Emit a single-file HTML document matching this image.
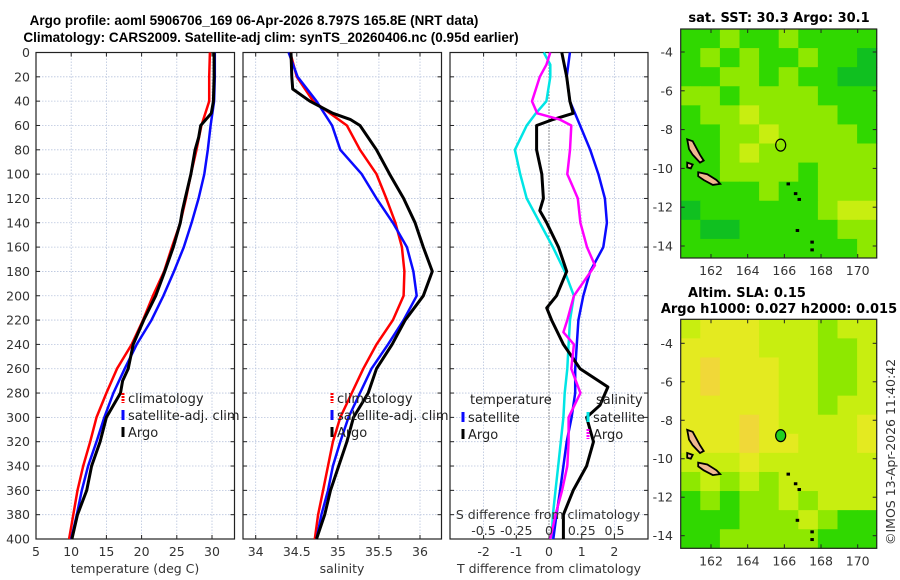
<!DOCTYPE html>
<html><head><meta charset="utf-8">
<style>
html,body{margin:0;padding:0;background:#fff;}
svg{display:block;font-family:"DejaVu Sans","Liberation Sans",sans-serif;}
.tk{font-size:12.5px;fill:#333;}
.ttl{font-size:13px;font-weight:bold;fill:#000;}
.ttl2{font-family:"Liberation Sans",sans-serif;font-size:13.5px;font-weight:bold;fill:#000;}
.lg{font-size:13px;fill:#222;}
</style></head>
<body>
<svg id="fig" width="900" height="580" viewBox="0 0 900 580">
<text class="ttl2" x="254" y="25" text-anchor="middle">Argo profile: aoml 5906706_169 06-Apr-2026 8.797S 165.8E (NRT data)</text>
<text class="ttl2" x="271" y="42" text-anchor="middle">Climatology: CARS2009. Satellite-adj clim: synTS_20260406.nc (0.95d earlier)</text>
<text class="ttl" x="779" y="22" text-anchor="middle">sat. SST: 30.3 Argo: 30.1</text>
<text class="ttl" x="747" y="297" text-anchor="middle">Altim. SLA: 0.15</text>
<text class="ttl" x="779" y="313" text-anchor="middle">Argo h1000: 0.027 h2000: 0.015</text>
<text class="tk" x="0" y="0" transform="translate(895,545) rotate(-90)">©IMOS 13-Apr-2026 11:40:42</text>
</svg>
<script>
// ---------- data ----------
const depths = [0,20,40,60,80,100,120,140,160,180,200,220,240,260,280,300,320,340,360,380,400];
const tempClim = [29.7,29.6,29.6,28.5,27.8,27.0,26.3,25.5,24.3,23.2,21.6,20.2,18.6,16.5,15.0,13.6,12.7,11.7,10.9,10.3,9.7];
const tempSat  = [30.4,30.4,30.3,29.8,29.4,28.9,28.1,27.1,26.0,24.6,23.1,21.4,19.3,17.6,16.0,14.7,13.6,12.4,11.5,10.8,10.0];
const argoDepths = [0,20,40,50,60,70,80,100,120,130,140,160,180,200,220,240,260,270,280,290,300,320,340,360,380,400];
const tempArgo = [30.3,30.3,30.2,29.9,28.4,28.1,27.6,27.0,26.2,25.8,25.5,24.5,23.3,22.0,20.3,18.8,18.1,17.3,17.0,16.0,15.0,14.1,12.9,12.2,10.9,10.1];
const salClim = [34.42,34.50,34.70,35.11,35.27,35.47,35.59,35.70,35.78,35.81,35.80,35.67,35.47,35.31,35.17,35.03,34.94,34.88,34.82,34.76,34.72];
const salSat  = [34.40,34.51,34.74,34.93,35.03,35.29,35.47,35.67,35.84,35.92,35.96,35.80,35.61,35.41,35.27,35.13,35.03,34.94,34.88,34.80,34.74];
const salArgoDepths = [0,20,30,40,50,55,60,80,100,120,140,160,180,200,220,240,260,280,300,320,340,360,380,400];
const salArgo = [34.43,34.44,34.45,34.66,34.94,35.15,35.27,35.47,35.63,35.80,35.94,36.04,36.15,36.04,35.82,35.66,35.47,35.37,35.19,35.11,35.01,34.91,34.84,34.74];
const dTSat = [0.64,0.54,0.64,0.95,1.26,1.51,1.71,1.77,1.66,1.26,1.05,0.90,0.85,0.80,0.80,0.69,0.54,0.44,0.34,0.23,0.13];
const dArgoDepths = [0,20,40,50,55,60,80,100,120,130,140,160,180,200,210,220,240,260,275,290,300,320,340,360,380,400];
const dTArgo = [0.39,0.54,0.64,0.74,0.13,-0.38,-0.38,-0.22,-0.17,-0.28,-0.07,0.29,0.54,0.23,-0.07,0.08,0.44,0.95,1.80,1.56,1.15,1.36,1.15,0.74,0.44,0.44];
const dSDepths = [0,10,20,40,50,60,80,100,120,140,160,180,200,220,240,260,280,300,320,340,360,380,400];
const dSSat = [-0.04,0.01,0.01,-0.02,-0.10,-0.17,-0.26,-0.22,-0.17,-0.07,0.03,0.12,0.19,0.16,0.15,0.14,0.12,0.11,0.09,0.07,0.05,0.03,0.02];
const dSArgoDepths = [0,10,20,30,40,50,55,60,80,100,110,120,140,160,175,180,200,220,230,240,260,280,300,320,340,360,380,400];
const dSArgo = [0.01,-0.02,-0.07,-0.10,-0.13,-0.09,0.08,0.17,0.16,0.14,0.18,0.22,0.24,0.29,0.35,0.32,0.19,0.14,0.11,0.19,0.17,0.24,0.15,0.15,0.14,0.10,0.05,0.01];
const depthTicks = [0,20,40,60,80,100,120,140,160,180,200,220,240,260,280,300,320,340,360,380,400];
const tempTicks = [5,10,15,20,25,30];
const salTicks = [34,34.5,35,35.5,36];
const dTTicks = [-2,-1,0,1,2];
const dSTicks = [-0.5,-0.25,0,0.25,0.5];
const dSTickLabels = ["-0.5","-0.25","0","0.25","0.5"];
const latTicks = [-4,-6,-8,-10,-12,-14];
const lonTicks = [162,164,166,168,170];
const sstGrid = [
[1,1,2,1,1,2,1,1,1,1],[1,2,1,2,1,1,2,1,1,0],[1,1,2,2,1,2,1,1,0,0],[2,2,1,2,2,2,2,1,1,1],
[1,2,2,3,2,2,2,2,1,1],[1,1,2,2,3,2,2,2,2,1],[1,1,2,3,2,2,2,2,2,2],[1,1,2,2,2,2,1,2,2,2],
[1,1,1,1,2,1,1,2,2,2],[0,1,1,1,1,1,1,2,3,3],[1,0,0,1,1,1,1,1,2,2],[1,1,1,1,1,1,1,1,1,2]];
const slaGrid = [
[3,4,4,4,3,3,3,2,3,3],[4,4,4,4,3,3,3,2,2,3],[4,5,4,4,4,3,3,2,2,3],[4,5,4,4,4,3,3,2,2,3],
[4,4,4,4,4,3,3,2,3,3],[4,4,4,5,4,3,3,3,3,4],[4,4,4,5,4,4,3,3,3,4],[3,3,3,4,3,3,3,3,3,3],
[2,3,2,3,2,3,3,3,3,3],[1,2,1,2,2,3,2,3,3,3],[1,1,1,2,2,2,3,2,1,1],[1,1,2,2,2,2,2,1,1,1]];
const argoLon = 165.8, argoLat = -8.8;

// ---------- helpers ----------
const NS="http://www.w3.org/2000/svg";
const svg=document.getElementById('fig');
function mk(tag,attrs,parent){const e=document.createElementNS(NS,tag);for(const k in attrs)e.setAttribute(k,attrs[k]);(parent||svg).appendChild(e);return e;}
const Y0=52.5, Y1=539;
const yD = d => Y0 + (d/400)*(Y1-Y0);
function lin(d0,d1,p0,p1){return v=>p0+(v-d0)/(d1-d0)*(p1-p0);}
const xT = lin(5,30,36,212);
const xS = lin(34,36,255.7,420);
const xDT = lin(0,1,549,581.7);
const xDS = lin(0,0.5,549,614.5);
const panels=[{x0:36,x1:234.5},{x0:243,x1:441.5},{x0:450,x1:648}];

function frame(p,vgrid,sc,name){
  const g=mk('g',{});
  
  
  vgrid.forEach(v=>{const l=mk('line',{x1:sc(v),x2:sc(v),y1:Y0,y2:Y1,stroke:'#b8c4dd','stroke-width':0.8,'stroke-dasharray':'1.5,1.5'},g);
    
    mk('line',{x1:sc(v),x2:sc(v),y1:Y1,y2:Y1-4,stroke:'#222'},g);mk('line',{x1:sc(v),x2:sc(v),y1:Y0,y2:Y0+4,stroke:'#222'},g);});
  depthTicks.forEach(d=>{const l=mk('line',{x1:p.x0,x2:p.x1,y1:yD(d),y2:yD(d),stroke:'#b8c4dd','stroke-width':0.8,'stroke-dasharray':'1.5,1.5'},g);
    
    mk('line',{x1:p.x0,x2:p.x0+4,y1:yD(d),y2:yD(d),stroke:'#222'},g);mk('line',{x1:p.x1,x2:p.x1-4,y1:yD(d),y2:yD(d),stroke:'#222'},g);});
  mk('rect',{x:p.x0,y:Y0,width:p.x1-p.x0,height:Y1-Y0,fill:'none',stroke:'#222','stroke-width':1.2},g);
}
function line(xs,ys,xf,col,w,name){
  const pts=xs.map((v,i)=>xf(v).toFixed(1)+','+yD(ys[i]).toFixed(1)).join(' ');
  const e=mk('polyline',{points:pts,fill:'none',stroke:col,'stroke-width':w,'stroke-linejoin':'round'});
  
  
  return e;
}
function txt(x,y,s,anchor,cls,name){const t=mk('text',{x:x,y:y,'text-anchor':anchor||'start',class:cls||'tk'});t.textContent=s;
  
  
  return t;}
function legend(x,y,items,name){
  const g=mk('g',{});
  
  
  items.forEach((it,i)=>{const yy=y+i*17;mk('line',{x1:x,x2:x,y1:yy-9,y2:yy+1,stroke:it[1],'stroke-width':3,'stroke-dasharray':it[2]||''},g);
    const t=mk('text',{x:x+5,y:yy+1,class:'lg'},g);t.textContent=it[0];});
}

// ---------- panel 1 ----------
frame(panels[0],tempTicks,xT,'temperature-axes');
depthTicks.forEach(d=>txt(30,yD(d)+4.5,String(d),'end','tk','depth-tick-label'));
tempTicks.forEach(v=>txt(xT(v),556,String(v),'middle','tk','temperature-tick-label'));
txt(135,573,'temperature (deg C)','middle','tk','temperature-axis-title');
line(tempClim,depths,xT,'#ff0000',2.5,'temp-climatology-line');
line(tempSat,depths,xT,'#0a0aff',2.5,'temp-satellite-line');
line(tempArgo,argoDepths,xT,'#000',3,'temp-argo-line');
legend(123,402,[['climatology','#ff0000','2,1'],['satellite-adj. clim','#0a0aff'],['Argo','#000']],'temperature-legend');

// ---------- panel 2 ----------
frame(panels[1],salTicks,xS,'salinity-axes');
salTicks.forEach(v=>txt(xS(v),556,String(v),'middle','tk','salinity-tick-label'));
txt(342,573,'salinity','middle','tk','salinity-axis-title');
line(salClim,depths,xS,'#ff0000',2.5,'sal-climatology-line');
line(salSat,depths,xS,'#0a0aff',2.5,'sal-satellite-line');
line(salArgo,salArgoDepths,xS,'#000',3,'sal-argo-line');
legend(332,402,[['climatology','#ff0000','2,1'],['satellite-adj. clim','#0a0aff'],['Argo','#000']],'salinity-legend');

// ---------- panel 3 ----------
frame(panels[2],dTTicks,xDT,'difference-axes');
mk('line',{x1:xDT(0),x2:xDT(0),y1:Y0,y2:Y1,stroke:'#333','stroke-width':1,'stroke-dasharray':'1,2'});
dTTicks.forEach(v=>txt(xDT(v),556,String(v),'middle','tk','t-diff-tick-label'));
txt(549,573,'T difference from climatology','middle','tk','t-diff-axis-title');
line(dSSat,dSDepths,xDS,'#00e5e5',2.5,'s-diff-satellite-line');
line(dTSat,depths,xDT,'#0a0aff',2.5,'t-diff-satellite-line');
line(dTArgo,dArgoDepths,xDT,'#000',3,'t-diff-argo-line');
line(dSArgo,dSArgoDepths,xDS,'#ff00ff',2.5,'s-diff-argo-line');
txt(548,519,'S difference from climatology','middle','tk','s-diff-axis-title');
dSTicks.forEach((v,i)=>txt(xDS(v),535,dSTickLabels[i],'middle','tk','s-diff-tick-label'));
txt(470,404,'temperature','start','lg','t-legend-header');
txt(596,404,'salinity','start','lg','s-legend-header');
legend(463,421,[['satellite','#0a0aff'],['Argo','#000']],'t-diff-legend');
legend(588,421,[['satellite','#00e5e5'],['Argo','#ff00ff','2,1']],'s-diff-legend');

// ---------- maps ----------
const palette=['#10c020','#30d800','#8ee800','#c8ee10','#e4ea20','#f0d838'];
const xL = lin(162,170,711,857.7);
function drawMap(grid,top,bottom,y4,y14,name,filled){
  const yL = lin(-4,-14,y4,y14);
  const x0=680.7,x1=876.7;
  const g=mk('g',{});
  
  
  const rows=grid.length, cols=grid[0].length, cw=(x1-x0)/cols, ch=(bottom-top)/rows;
  grid.forEach((row,r)=>row.forEach((v,c)=>{
    const cell=mk('rect',{x:x0+c*cw,y:top+r*ch,width:cw+0.5,height:ch+0.5,fill:palette[v]},g);
    
    
  }));
  const isl=[[[160.7,-8.5],[161.0,-8.6],[161.4,-9.3],[161.6,-9.6],[161.4,-9.7],[161.0,-9.3],[160.8,-9.0]],
             [[161.3,-10.2],[161.8,-10.3],[162.3,-10.6],[162.5,-10.8],[162.1,-10.85],[161.6,-10.6],[161.3,-10.4]],
             [[160.7,-9.7],[161.0,-9.8],[160.9,-10.0],[160.7,-9.95]]];
  isl.forEach(p=>{const s=mk('polygon',{points:p.map(q=>xL(q[0]).toFixed(1)+','+yL(q[1]).toFixed(1)).join(' '),fill:'#f0b890',stroke:'#000','stroke-width':1.8},g);
    });
  [[166.2,-10.8],[166.8,-11.6],[167.5,-13.8],[167.5,-14.2],[166.6,-11.3],[166.7,-13.2]].forEach(q=>{
    const s=mk('rect',{x:xL(q[0])-1.5,y:yL(q[1])-1.5,width:3.5,height:3,fill:'#000'},g);
    });
  const c=mk('ellipse',{cx:xL(argoLon),cy:yL(argoLat),rx:5,ry:6,fill:filled?'#20d020':'none',stroke:'#000','stroke-width':1.2},g);
  
  mk('rect',{x:x0,y:top,width:x1-x0,height:bottom-top,fill:'none',stroke:'#222','stroke-width':1.2},g);
  latTicks.forEach(v=>{mk('line',{x1:x0,x2:x0+4,y1:yL(v),y2:yL(v),stroke:'#222'},g);mk('line',{x1:x1,x2:x1-4,y1:yL(v),y2:yL(v),stroke:'#222'},g);
    txt(673,yL(v)+4.5,String(v),'end','tk','latitude-tick-label');});
  lonTicks.forEach(v=>{mk('line',{x1:xL(v),x2:xL(v),y1:bottom,y2:bottom-4,stroke:'#222'},g);mk('line',{x1:xL(v),x2:xL(v),y1:top,y2:top+4,stroke:'#222'},g);
    txt(xL(v),bottom+17,String(v),'middle','tk','longitude-tick-label');});
}
drawMap(sstGrid,29,258,52,246,'sst-map',false);
drawMap(slaGrid,319.3,548.3,343.3,535.7,'sla-map',true);
</script>
</body></html>
